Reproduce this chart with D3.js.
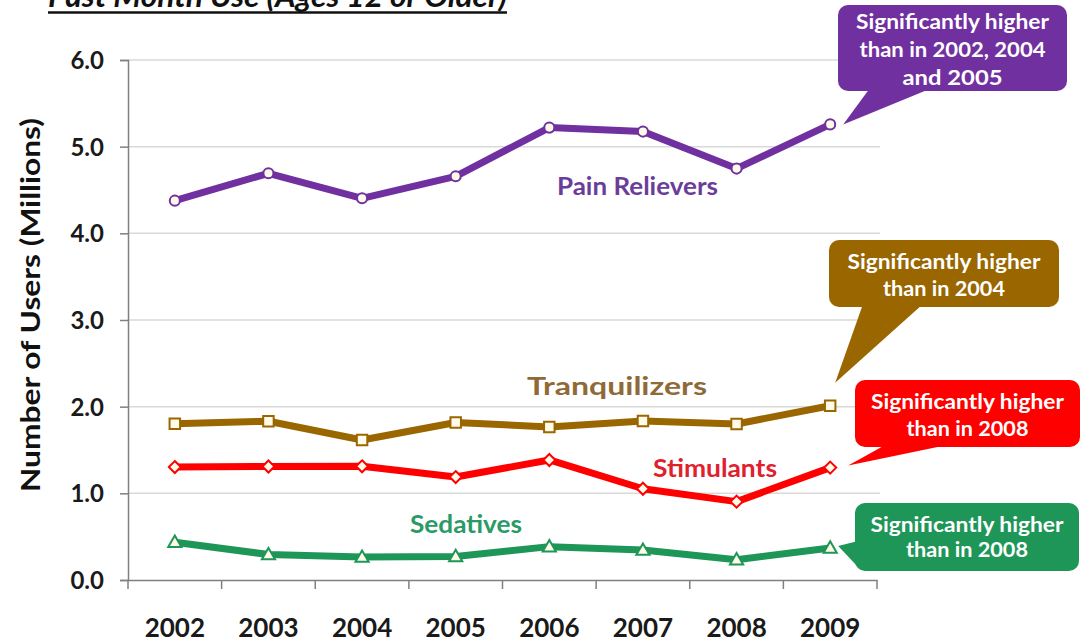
<!DOCTYPE html>
<html>
<head>
<meta charset="utf-8">
<script src="https://cdn.jsdelivr.net/npm/d3@7"></script>
<style>
  html, body { margin: 0; padding: 0; background: #fff; }
  svg { display: block; font-family: Lato, "Open Sans", sans-serif; }
</style>
</head>
<body>
<svg id="chart" width="1082" height="643"></svg>
<script>
// ---- data ----
const years = ["2002", "2003", "2004", "2005", "2006", "2007", "2008", "2009"];
const painRelievers = [4.377, 4.693, 4.404, 4.658, 5.220, 5.174, 4.747, 5.257];
const tranquilizers = [1.804, 1.832, 1.616, 1.817, 1.766, 1.835, 1.800, 2.010];
const stimulants    = [1.303, 1.310, 1.312, 1.188, 1.385, 1.053, 0.904, 1.297];
const sedatives     = [0.436, 0.294, 0.265, 0.272, 0.385, 0.346, 0.234, 0.370];
const yTicks = [0, 1, 2, 3, 4, 5, 6];
const seriesNames = ["Pain Relievers", "Tranquilizers", "Stimulants", "Sedatives"];
const calloutTexts = [
  ["Significantly higher", "than in 2002, 2004", "and 2005"],
  ["Significantly higher", "than in 2004"],
  ["Significantly higher", "than in 2008"],
  ["Significantly higher", "than in 2008"]
];
const titleText = "Past Month Use (Ages 12 or Older)";
const yTitle = "Number of Users (Millions)";

// ---- layout ----
const svg = d3.select("#chart");
const x = d3.scaleBand().domain(years).range([128, 877]).padding(0);
const y = d3.scaleLinear().domain([0, 6]).range([580, 60]);
const cx = d => x(d) + x.bandwidth() / 2;

function fit(sel, w) {
  sel.attr("textLength", w).attr("lengthAdjust", "spacingAndGlyphs");
  return sel;
}

// title (partially cut off at top, as in the reference)
fit(svg.append("text")
  .attr("x", 48).attr("y", 7)
  .attr("font-size", 30).attr("font-weight", "bold").attr("font-style", "italic")
  .attr("fill", "#111")
  .text(titleText), 459);
svg.append("line").attr("x1", 48).attr("x2", 507).attr("y1", 12.5).attr("y2", 12.5)
  .attr("stroke", "#111").attr("stroke-width", 2.5);

// gridlines
svg.append("g").selectAll("line").data(yTicks.filter(d => d > 0)).join("line")
  .attr("x1", 128).attr("x2", 880)
  .attr("y1", d => y(d)).attr("y2", d => y(d))
  .attr("stroke", "#d9d9d9").attr("stroke-width", 1.5);

// y axis
const yAxis = svg.append("g").attr("transform", "translate(128,0)")
  .call(d3.axisLeft(y).tickValues(yTicks).tickFormat(d3.format(".1f")).tickSize(8).tickPadding(16));
yAxis.select(".domain").attr("stroke", "#808080").attr("stroke-width", 1.5);
yAxis.selectAll(".tick line").attr("stroke", "#808080").attr("stroke-width", 1.5);
yAxis.selectAll(".tick text").attr("font-size", 24).attr("font-weight", "bold")
  .attr("fill", "#1a1a1a").attr("font-family", "Lato, sans-serif").attr("dy", "0.36em");

// x axis
const xAxis = svg.append("g").attr("transform", "translate(0,580)")
  .call(d3.axisBottom(x).tickSize(0).tickPadding(39));
xAxis.select(".domain").attr("stroke", "#808080").attr("stroke-width", 1.5);
xAxis.selectAll(".tick text").attr("font-size", 26).attr("font-weight", "bold")
  .attr("fill", "#1a1a1a").attr("font-family", "Lato, sans-serif");
// x tick marks at band edges
svg.append("g").selectAll("line").data(years.concat(["end"])).join("line")
  .attr("x1", (d, i) => 128 + i * x.bandwidth())
  .attr("x2", (d, i) => 128 + i * x.bandwidth())
  .attr("y1", 580).attr("y2", 589)
  .attr("stroke", "#808080").attr("stroke-width", 1.5);

// y title
fit(svg.append("text")
  .attr("transform", "translate(40,305) rotate(-90)")
  .attr("text-anchor", "middle")
  .attr("font-size", 26).attr("font-weight", "bold").attr("fill", "#111")
  .text(yTitle), 374);

// ---- series ----
const series = [
  { name: seriesNames[0], values: painRelievers, color: "#7030A0", labelColor: "#6a3d9a", marker: "circle" },
  { name: seriesNames[1], values: tranquilizers, color: "#996600", labelColor: "#8f6a38", marker: "square" },
  { name: seriesNames[2], values: stimulants,    color: "#FF0000", labelColor: "#e0202c", marker: "diamond" },
  { name: seriesNames[3], values: sedatives,     color: "#1E9658", labelColor: "#2a9a66", marker: "triangle" }
];

const line = d3.line().x((d, i) => cx(years[i])).y(d => y(d));
const markerPaths = {
  circle: d3.symbol().type(d3.symbolCircle).size(80)(),
  square: d3.symbol().type(d3.symbolSquare).size(110)(),
  diamond: "M0,-6L6,0L0,6L-6,0Z",
  triangle: d3.symbol().type(d3.symbolTriangle).size(75)()
};

series.forEach(s => {
  svg.append("path").datum(s.values)
    .attr("d", line).attr("fill", "none")
    .attr("stroke", s.color).attr("stroke-width", 7)
    .attr("stroke-linejoin", "round");
  svg.append("g").selectAll("path").data(s.values).join("path")
    .attr("transform", (d, i) => `translate(${cx(years[i])},${y(d) + (s.marker === "triangle" ? 1 : 0)})`)
    .attr("d", markerPaths[s.marker])
    .attr("fill", "#fffbe8").attr("stroke", s.color).attr("stroke-width", 2);
});

// series labels
const labelPos = [
  { x: 557, y: 195, w: 161 },
  { x: 527, y: 395, w: 180 },
  { x: 653, y: 477, w: 124 },
  { x: 410, y: 533, w: 112 }
];
series.forEach((s, i) => {
  fit(svg.append("text")
    .attr("x", labelPos[i].x).attr("y", labelPos[i].y)
    .attr("font-size", 24).attr("font-weight", "bold").attr("fill", s.labelColor)
    .text(s.name), labelPos[i].w);
});

// ---- callouts ----
const last = years.length - 1;
const xl = cx(years[last]);
const callouts = [
  { s: 0, box: [838, 5, 229, 86], tail: [[870, 88], [932, 88]], tip: [xl + 13, y(painRelievers[last])], lines: [22, 50, 78], textW: [193, 186, 100] },
  { s: 1, box: [829, 240, 230, 67], tail: [[863, 304], [923, 304]], tip: [xl + 5, y(tranquilizers[last]) - 23], lines: [262, 289], textW: [193, 122] },
  { s: 2, box: [855, 380, 225, 67], tail: [[887, 444], [952, 444]], tip: [xl + 18, y(stimulants[last]) - 2], lines: [402, 429], textW: [193, 122] },
  { s: 3, box: [855, 503, 224, 68], tail: [[858, 541], [858, 567]], tip: [xl + 8, y(sedatives[last]) - 2], lines: [525, 550], textW: [193, 122] }
];
callouts.forEach((c, i) => {
  const col = series[c.s].color;
  const g = svg.append("g");
  g.append("rect")
    .attr("x", c.box[0]).attr("y", c.box[1]).attr("width", c.box[2]).attr("height", c.box[3])
    .attr("rx", 10).attr("fill", col);
  g.append("path")
    .attr("d", d3.line()([c.tail[0], c.tip, c.tail[1]]) + "Z")
    .attr("fill", col);
  calloutTexts[i].forEach((t, j) => {
    fit(g.append("text")
      .attr("x", c.box[0] + c.box[2] / 2).attr("y", c.lines[j])
      .attr("text-anchor", "middle").attr("dy", "0.35em")
      .attr("font-size", 20).attr("font-weight", "bold").attr("fill", "#fff")
      .text(t), c.textW[j]);
  });
});
</script>
</body>
</html>
